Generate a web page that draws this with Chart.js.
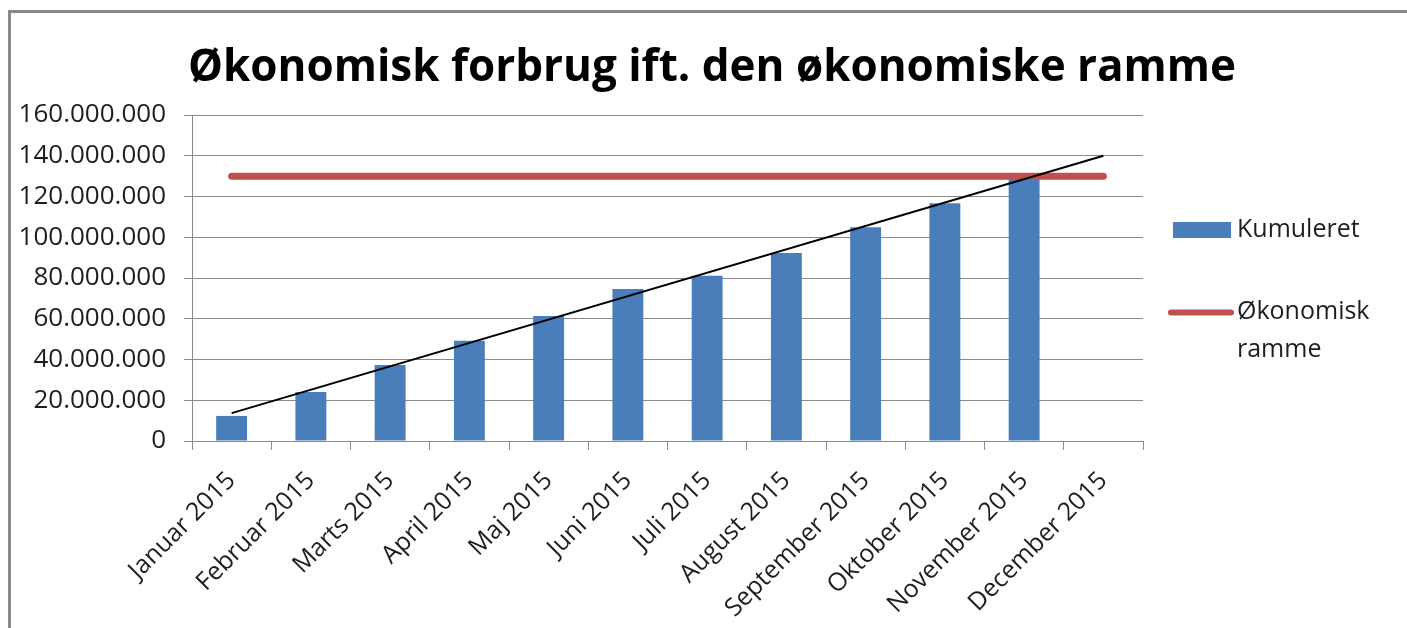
<!DOCTYPE html>
<html>
<head>
<meta charset="utf-8">
<title>Økonomisk forbrug</title>
<script src="https://cdn.jsdelivr.net/npm/chart.js@4.4.1/dist/chart.umd.min.js"></script>
<style>
  html, body { margin: 0; padding: 0; background: #fff; }
  #wrap { position: relative; width: 1407px; height: 628px; }
</style>
</head>
<body>
<div id="wrap"><canvas id="forbrug" width="1407" height="628"></canvas></div>
<script>
// Data
const months = ['Januar 2015', 'Februar 2015', 'Marts 2015', 'April 2015', 'Maj 2015', 'Juni 2015',
    'Juli 2015', 'August 2015', 'September 2015', 'Oktober 2015', 'November 2015', 'December 2015'];
const kumuleret = [12300000, 24000000, 37300000, 49200000, 61300000, 74600000,
    81100000, 92300000, 104900000, 116700000, 129000000, null];
const ramme = [130000000, 130000000, 130000000, 130000000, 130000000, 130000000,
    130000000, 130000000, 130000000, 130000000, 130000000, 130000000];
// trend line, only its two ends are read (Jan and Dec)
const trend = [13700000, null, null, null, null, null, null, null, null, null, null, 140000000];
const yTicks = [0, 20000000, 40000000, 60000000, 80000000, 100000000, 120000000, 140000000, 160000000];
const titleText = 'Økonomisk forbrug ift. den økonomiske ramme';

const gridGrey = '#8a8a8a';
const textCol = '#1e1e1e';
const font = 'Open Sans';

function fmt(v) {
    return String(v).replace(/\B(?=(\d{3})+(?!\d))/g, '.');
}

// grey frame round the chart like the sheet object
const frame = {
    id: 'frame',
    beforeDraw(chart) {
        const c = chart.ctx;
        c.save();
        c.fillStyle = '#fff';
        c.fillRect(0, 0, chart.width, chart.height);
        c.strokeStyle = gridGrey;
        c.lineWidth = 3;
        c.beginPath();
        c.moveTo(8, 11.5);
        c.lineTo(chart.width, 11.5);
        c.moveTo(9.5, 10);
        c.lineTo(9.5, chart.height);
        c.stroke();
        c.restore();
    }
};

// title centred on the whole object, not on the plot
const bigTitle = {
    id: 'bigTitle',
    afterDraw(chart) {
        const c = chart.ctx;
        c.save();
        c.font = 'bold 44px "' + font + '"';
        c.fillStyle = '#000';
        c.textAlign = 'center';
        c.textBaseline = 'middle';
        c.fillText(titleText, 712, 68);
        c.restore();
    }
};

// legend on the right, label can wrap on two lines
const sideLegend = {
    id: 'sideLegend',
    afterDraw(chart) {
        const c = chart.ctx;
        const ds = chart.data.datasets;
        c.save();
        c.font = '25px "' + font + '"';
        c.textBaseline = 'middle';
        c.textAlign = 'left';
        // bars
        c.fillStyle = ds[0].backgroundColor;
        c.fillRect(1173, 222, 58, 16);
        c.fillStyle = textCol;
        c.fillText(ds[0].label, 1237, 230);
        // ramme
        c.strokeStyle = ds[1].borderColor;
        c.lineWidth = 6;
        c.lineCap = 'round';
        c.beginPath();
        c.moveTo(1171, 312.5);
        c.lineTo(1231, 312.5);
        c.stroke();
        const words = ds[1].label.split(' ');
        words.forEach((w, i) => c.fillText(w, 1237, 312 + i * 38));
        c.restore();
    }
};

const ctx = document.getElementById('forbrug').getContext('2d');
const chart = new Chart(ctx, {
    data: {
        labels: months,
        datasets: [{
            type: 'bar',
            label: 'Kumuleret',
            data: kumuleret,
            backgroundColor: '#4a7ebb',
            barPercentage: 0.39,
            categoryPercentage: 1,
            order: 3,
        }, {
            type: 'line',
            label: 'Økonomisk ramme',
            data: ramme,
            borderColor: '#c0504d',
            borderWidth: 7,
            borderCapStyle: 'round',
            pointRadius: 0,
            fill: false,
            order: 2,
        }, {
            type: 'line',
            label: 'Lineær (Kumuleret)',
            data: trend,
            borderColor: '#000',
            borderWidth: 2,
            pointRadius: 0,
            spanGaps: true,
            fill: false,
            order: 1,
        }],
    },
    options: {
        responsive: false,
        animation: false,
        layout: { padding: { left: 0, right: 264, top: 115, bottom: 0 } },
        plugins: {
            legend: { display: false },
            tooltip: { enabled: false },
            title: { display: false },
        },
        scales: {
            x: {
                offset: true,
                grid: { offset: true, drawOnChartArea: false, drawTicks: true, tickLength: 9, color: gridGrey },
                border: { color: gridGrey, width: 1 },
                ticks: {
                    color: textCol,
                    font: { family: font, size: 25 },
                    minRotation: 45,
                    maxRotation: 45,
                    autoSkip: false,
                    padding: 16,
                    labelOffset: 0,
                },
                afterFit(scale) { scale.height = 628 - 441; },
            },
            y: {
                min: 0,
                max: 160000000,
                afterBuildTicks(scale) { scale.ticks = yTicks.map(v => ({ value: v })); },
                grid: { color: gridGrey, tickLength: 8 },
                border: { color: gridGrey, width: 1 },
                ticks: {
                    color: textCol,
                    font: { family: font, size: 26 },
                    padding: 18,
                    callback: v => fmt(v),
                },
                afterFit(scale) { scale.width = 192; },
            },
        },
    },
    plugins: [frame, bigTitle, sideLegend],
});
</script>
</body>
</html>
